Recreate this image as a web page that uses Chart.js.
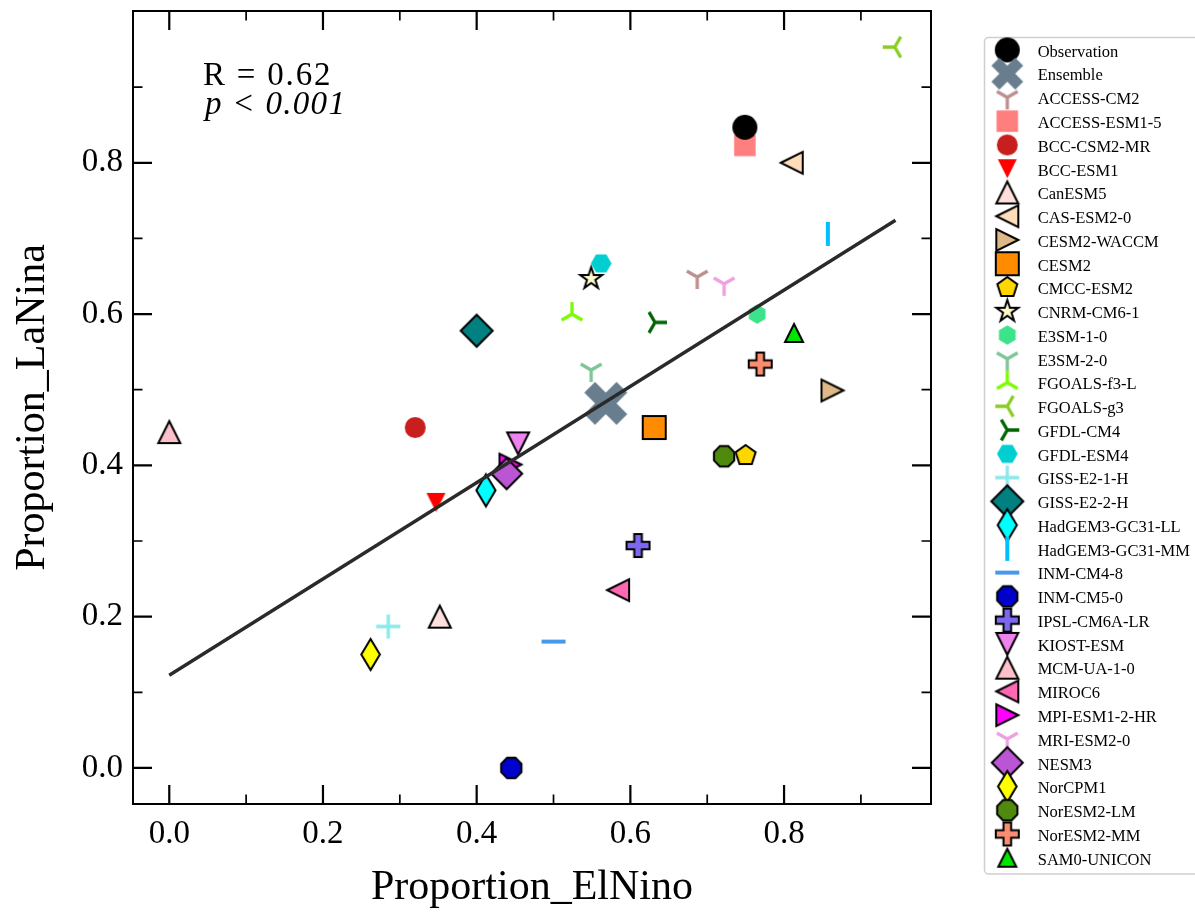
<!DOCTYPE html>
<html><head><meta charset="utf-8">
<script src="https://cdn.jsdelivr.net/npm/chart.js@4.4.1/dist/chart.umd.min.js"></script>
<style>html,body{margin:0;padding:0;background:#fff;}canvas{display:block;}</style>
</head><body>
<canvas id="c" width="1195" height="913"></canvas>
<script>
// ---------------- DATA ----------------
const models = ['Observation','Ensemble','ACCESS-CM2','ACCESS-ESM1-5','BCC-CSM2-MR','BCC-ESM1','CanESM5','CAS-ESM2-0','CESM2-WACCM','CESM2','CMCC-ESM2','CNRM-CM6-1','E3SM-1-0','E3SM-2-0','FGOALS-f3-L','FGOALS-g3','GFDL-CM4','GFDL-ESM4','GISS-E2-1-H','GISS-E2-2-H','HadGEM3-GC31-LL','HadGEM3-GC31-MM','INM-CM4-8','INM-CM5-0','IPSL-CM6A-LR','KIOST-ESM','MCM-UA-1-0','MIROC6','MPI-ESM1-2-HR','MRI-ESM2-0','NESM3','NorCPM1','NorESM2-LM','NorESM2-MM','SAM0-UNICON'];
const elNino = [0.749,0.568,0.687,0.749,0.320,0.347,0.352,0.810,0.863,0.631,0.750,0.549,0.765,0.549,0.524,0.944,0.632,0.562,0.285,0.400,0.412,0.857,0.500,0.445,0.610,0.454,0.000,0.584,0.444,0.722,0.439,0.262,0.722,0.769,0.813];
const laNina = [0.847,0.482,0.649,0.823,0.450,0.351,0.200,0.800,0.499,0.450,0.413,0.647,0.600,0.526,0.600,0.953,0.589,0.667,0.187,0.578,0.367,0.706,0.167,0.000,0.294,0.429,0.444,0.235,0.401,0.640,0.389,0.150,0.412,0.534,0.575];
const fitX = [0.000, 0.945];
const fitY = [0.1225, 0.724];
const xTicks = [0.0, 0.2, 0.4, 0.6, 0.8];
const yTicks = [0.0, 0.2, 0.4, 0.6, 0.8];
const xMinor = [0.1, 0.3, 0.5, 0.7, 0.9];
const yMinor = [0.1, 0.3, 0.5, 0.7, 0.9];
const statText = ['R = 0.62', 'p < 0.001'];

// ---------------- STYLES ----------------
const STYLE = {
 'Observation': {shape:'o', size:25, fill:'#000000'},
 'Ensemble': {shape:'X', size:43, fill:'#687E8F', legendScale:0.74},
 'ACCESS-CM2': {shape:'1', size:24, color:'#BC8F8F'},
 'ACCESS-ESM1-5': {shape:'s', size:21.5, fill:'#FF7F7F'},
 'BCC-CSM2-MR': {shape:'o', size:21, fill:'#C81E1E'},
 'BCC-ESM1': {shape:'v', size:19, fill:'#FF0000'},
 'CanESM5': {shape:'^', size:22, fill:'#FFE0DE', edge:true},
 'CAS-ESM2-0': {shape:'<', size:22, fill:'#FFDCBA', edge:true},
 'CESM2-WACCM': {shape:'>', size:22, fill:'#DEB887', edge:true},
 'CESM2': {shape:'s', size:23, fill:'#FF8C00', edge:true},
 'CMCC-ESM2': {shape:'p', size:21, fill:'#FFD700', edge:true},
 'CNRM-CM6-1': {shape:'*', size:23, fill:'#FFFACD', edge:true},
 'E3SM-1-0': {shape:'h', size:19.3, fill:'#3DE38A'},
 'E3SM-2-0': {shape:'1', size:24, color:'#7FC496'},
 'FGOALS-f3-L': {shape:'2', size:24, color:'#7CFC00'},
 'FGOALS-g3': {shape:'3', size:24, color:'#8ACD22'},
 'GFDL-CM4': {shape:'4', size:24, color:'#006400'},
 'GFDL-ESM4': {shape:'H', size:20.7, fill:'#00CED1'},
 'GISS-E2-1-H': {shape:'+', size:24, color:'#8AE9E9'},
 'GISS-E2-2-H': {shape:'D', size:32, fill:'#008080', edge:true},
 'HadGEM3-GC31-LL': {shape:'d', size:32, fill:'#00FFFF', edge:true},
 'HadGEM3-GC31-MM': {shape:'|', size:24, color:'#00BFFF', lw:4},
 'INM-CM4-8': {shape:'_', size:24, color:'#4A98EA', lw:4},
 'INM-CM5-0': {shape:'8', size:22, fill:'#0000CD', edge:true},
 'IPSL-CM6A-LR': {shape:'P', size:23, fill:'#7B68EE', edge:true},
 'KIOST-ESM': {shape:'v', size:22, fill:'#EE82EE', edge:true},
 'MCM-UA-1-0': {shape:'^', size:22, fill:'#FFC0CB', edge:true},
 'MIROC6': {shape:'<', size:22, fill:'#FF69B4', edge:true},
 'MPI-ESM1-2-HR': {shape:'>', size:22, fill:'#FF00FF', edge:true},
 'MRI-ESM2-0': {shape:'1', size:24, color:'#EEA0E0'},
 'NESM3': {shape:'D', size:31, fill:'#BA55D3', edge:true},
 'NorCPM1': {shape:'d', size:31, fill:'#FFFF00', edge:true},
 'NorESM2-LM': {shape:'8', size:22, fill:'#4F8A0E', edge:true},
 'NorESM2-MM': {shape:'P', size:23, fill:'#FA8C70', edge:true},
 'SAM0-UNICON': {shape:'^', size:18, fill:'#00E600', edge:true}
};
const FONT = '"Liberation Serif", "Times New Roman", serif';

function makeMarker(st, scale) {
  scale = scale || 1;
  const s = st.size * scale, r = s / 2;
  const cw = Math.ceil(s + 12), ch = Math.ceil(s + 12);
  const cv = document.createElement('canvas');
  cv.width = cw; cv.height = ch;
  const ctx = cv.getContext('2d');
  ctx.translate(cw / 2, ch / 2);
  const poly = pts => { ctx.beginPath(); pts.forEach((p, k) => k ? ctx.lineTo(p[0], p[1]) : ctx.moveTo(p[0], p[1])); ctx.closePath(); };
  const reg = (n, rad, a0) => { const p = []; for (let k = 0; k < n; k++) { const a = (a0 + 360 * k / n) * Math.PI / 180; p.push([rad * Math.cos(a), rad * Math.sin(a)]); } return p; };
  const lines = segs => { ctx.beginPath(); segs.forEach(sg => { ctx.moveTo(0, 0); ctx.lineTo(sg[0], sg[1]); }); };
  let stroked = false;
  switch (st.shape) {
    case 'o': ctx.beginPath(); ctx.arc(0, 0, r, 0, Math.PI * 2); break;
    case 'X': poly([[-0.5,-0.25],[-0.25,-0.5],[0,-0.25],[0.25,-0.5],[0.5,-0.25],[0.25,0],[0.5,0.25],[0.25,0.5],[0,0.25],[-0.25,0.5],[-0.5,0.25],[-0.25,0]].map(p => [p[0]*s, p[1]*s])); break;
    case 's': poly([[-r,-r],[r,-r],[r,r],[-r,r]]); break;
    case '^': poly([[0,-r],[r,r],[-r,r]]); break;
    case 'v': poly([[0,r],[r,-r],[-r,-r]]); break;
    case '<': poly([[-r,0],[r,-r],[r,r]]); break;
    case '>': poly([[r,0],[-r,-r],[-r,r]]); break;
    case 'p': poly(reg(5, r, -90)); break;
    case 'h': poly(reg(6, r, -90)); break;
    case 'H': poly(reg(6, r, 0)); break;
    case '8': poly(reg(8, r, 22.5)); break;
    case '*': { const p = []; for (let k = 0; k < 10; k++) { const rr = k % 2 ? r * 0.381966 : r; const a = (-90 + 36 * k) * Math.PI / 180; p.push([rr * Math.cos(a), rr * Math.sin(a)]); } poly(p); break; }
    case 'P': { const w = s / 6; poly([[-w,-r],[w,-r],[w,-w],[r,-w],[r,w],[w,w],[w,r],[-w,r],[-w,w],[-r,w],[-r,-w],[-w,-w]]); break; }
    case 'D': poly([[0,-r],[r,0],[0,r],[-r,0]]); break;
    case 'd': poly([[0,-r],[0.6*r,0],[0,r],[-0.6*r,0]]); break;
    case '1': lines([[0,r],[-0.866*r,-0.5*r],[0.866*r,-0.5*r]]); stroked = true; break;
    case '2': lines([[0,-r],[-0.866*r,0.5*r],[0.866*r,0.5*r]]); stroked = true; break;
    case '3': lines([[-r,0],[0.5*r,-0.866*r],[0.5*r,0.866*r]]); stroked = true; break;
    case '4': lines([[r,0],[-0.5*r,-0.866*r],[-0.5*r,0.866*r]]); stroked = true; break;
    case '+': ctx.beginPath(); ctx.moveTo(-r,0); ctx.lineTo(r,0); ctx.moveTo(0,-r); ctx.lineTo(0,r); stroked = true; break;
    case '|': ctx.beginPath(); ctx.moveTo(0,-r); ctx.lineTo(0,r); stroked = true; break;
    case '_': ctx.beginPath(); ctx.moveTo(-r,0); ctx.lineTo(r,0); stroked = true; break;
  }
  if (stroked) {
    ctx.strokeStyle = st.color; ctx.lineWidth = (st.lw || 3.3) * scale; ctx.lineCap = 'butt'; ctx.stroke();
  } else {
    ctx.fillStyle = st.fill; ctx.fill();
    if (st.edge) { ctx.strokeStyle = '#000'; ctx.lineWidth = 2; ctx.lineJoin = 'miter'; ctx.stroke(); }
  }
  return cv;
}

const plotImgs = models.map(m => makeMarker(STYLE[m], 1));
const legendImgs = models.map(m => makeMarker(STYLE[m], STYLE[m].legendScale || 1));

const datasets = models.map((name, i) => ({
  type: 'scatter',
  label: name,
  data: [{x: elNino[i], y: laNina[i]}],
  pointStyle: plotImgs[i],
  pointRadius: 10,
  pointHoverRadius: 10,
  showLine: false,
  order: i < 2 ? -102 + i : -i
}));
datasets.push({
  type: 'line',
  label: 'fit',
  data: fitX.map((x, k) => ({x: x, y: fitY[k]})),
  borderColor: '#2a2a2a',
  borderWidth: 3.4,
  pointRadius: 0,
  showLine: true,
  fill: false,
  order: -1000
});

const framePlugin = {
  id: 'frame',
  afterDraw(chart) {
    const {ctx, chartArea: a, scales: {x, y}} = chart;
    ctx.save();
    ctx.strokeStyle = '#000';
    // ticks (inward, all four sides)
    const drawX = (vals, len, lw) => { ctx.lineWidth = lw; ctx.beginPath(); vals.forEach(v => { const p = x.getPixelForValue(v); ctx.moveTo(p, a.bottom); ctx.lineTo(p, a.bottom - len); ctx.moveTo(p, a.top); ctx.lineTo(p, a.top + len); }); ctx.stroke(); };
    const drawY = (vals, len, lw) => { ctx.lineWidth = lw; ctx.beginPath(); vals.forEach(v => { const p = y.getPixelForValue(v); ctx.moveTo(a.left, p); ctx.lineTo(a.left + len, p); ctx.moveTo(a.right, p); ctx.lineTo(a.right - len, p); }); ctx.stroke(); };
    drawX(xTicks, 19, 2.2); drawX(xMinor, 9.5, 1.7);
    drawY(yTicks, 19, 2.2); drawY(yMinor, 9.5, 1.7);
    ctx.lineWidth = 2;
    ctx.strokeRect(a.left, a.top, a.right - a.left, a.bottom - a.top);
    // stats text
    ctx.fillStyle = '#000';
    ctx.textBaseline = 'alphabetic';
    ctx.textAlign = 'left';
    ctx.letterSpacing = '1.8px';
    ctx.font = '33px ' + FONT;
    ctx.fillText(statText[0], a.left + 70, a.top + 74);
    ctx.letterSpacing = '1.3px';
    ctx.font = 'italic 33px ' + FONT;
    ctx.fillText(statText[1], a.left + 72, a.top + 102.5);
    ctx.letterSpacing = '0px';
    // legend
    const bx = 984.5, by = 37.5;
    ctx.strokeStyle = '#cfcfcf'; ctx.lineWidth = 1.5;
    ctx.beginPath(); ctx.roundRect(bx, by, 260, 836.5, 4); ctx.stroke();
    ctx.font = '16.5px ' + FONT;
    models.forEach((m, i) => {
      const base = by + 19.2 + i * 23.76;
      const img = legendImgs[i];
      ctx.drawImage(img, bx + 22.8 - img.width / 2, base - 6.8 - img.height / 2);
      ctx.fillText(m, bx + 53.2, base);
    });
    ctx.restore();
  }
};

new Chart(document.getElementById('c'), {
  type: 'scatter',
  data: {datasets},
  options: {
    responsive: false,
    animation: false,
    events: [],
    layout: {padding: {left: 0, top: 11, right: 264, bottom: 0}},
    plugins: {legend: {display: false}, tooltip: {enabled: false}},
    scales: {
      x: {
        type: 'linear', min: -0.0472, max: 0.9912,
        grid: {display: false, drawTicks: false}, border: {display: false},
        afterBuildTicks: s => { s.ticks = xTicks.map(v => ({value: v})); },
        afterFit: s => { s.height = 109; s.paddingLeft = 0; s.paddingRight = 0; },
        ticks: {font: {family: FONT, size: 33}, color: '#000', padding: 11, callback: v => Number(v).toFixed(1)},
        title: {display: true, text: 'Proportion_ElNino', font: {family: FONT, size: 42}, color: '#000', padding: {top: 0, bottom: 0}}
      },
      y: {
        type: 'linear', min: -0.0477, max: 1.0007,
        grid: {display: false, drawTicks: false}, border: {display: false},
        afterBuildTicks: s => { s.ticks = yTicks.map(v => ({value: v})); },
        afterFit: s => { s.width = 133; s.paddingTop = 0; s.paddingBottom = 0; },
        ticks: {font: {family: FONT, size: 33}, color: '#000', padding: 10, callback: v => Number(v).toFixed(1)},
        title: {display: true, text: 'Proportion_LaNina', font: {family: FONT, size: 42}, color: '#000', padding: {top: 8, bottom: 0}}
      }
    }
  },
  plugins: [framePlugin]
});
</script>
</body></html>
